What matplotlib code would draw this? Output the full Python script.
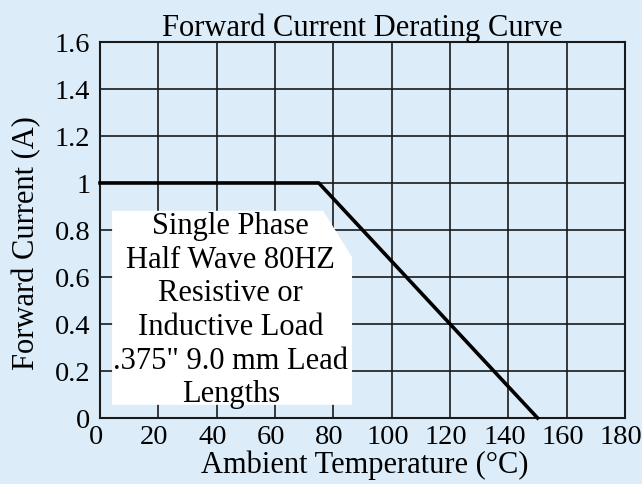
import matplotlib
matplotlib.use("Agg")
import matplotlib.pyplot as plt
import matplotlib.transforms as mtransforms
from matplotlib.patches import Polygon

# derating curve
temps = [0, 75, 150]
current = [1.0, 1.0, 0.0]

x_ticks = [0, 20, 40, 60, 80, 100, 120, 140, 160, 180]
y_ticks = [0, 0.2, 0.4, 0.6, 0.8, 1.0, 1.2, 1.4, 1.6]
y_tick_labels = ["0", "0.2", "0.4", "0.6", "0.8", "1", "1.2", "1.4", "1.6"]

note_lines = [
    "Single Phase",
    "Half Wave 80HZ",
    "Resistive or",
    "Inductive Load",
    '.375" 9.0 mm Lead',
    "Lengths",
]

bg = "#dcedf9"
plt.rcParams["font.family"] = ["Liberation Serif", "DejaVu Serif"]
fs = 22
tick_fs = 20.5

fig = plt.figure(figsize=(6.42, 4.85), dpi=100, facecolor=bg)
ax = fig.add_axes([0.1558, 0.1361, 0.8178, 0.7753], facecolor=bg)

ax.set_xlim(0, 180)
ax.set_ylim(0, 1.6)
ax.set_xticks(x_ticks)
ax.set_yticks(y_ticks)
ax.set_yticklabels(y_tick_labels)
ax.tick_params(axis="both", length=0, labelsize=tick_fs)
ax.tick_params(axis="x", pad=4)
ax.tick_params(axis="y", pad=7)
ax.grid(True, color="#1a1a1a", linewidth=1.2, zorder=1)
ax.set_axisbelow(True)
for s in ax.spines.values():
    s.set_linewidth(1.5)
    s.set_color("#1a1a1a")

# x tick labels sit a little left of their grid lines
shift = mtransforms.ScaledTranslation(-4 / 100, 0, fig.dpi_scale_trans)
for lab in ax.get_xticklabels():
    lab.set_transform(lab.get_transform() + shift)

# white note box with clipped top-right corner
box = Polygon(
    [(0.023, 0.035), (0.48, 0.035), (0.48, 0.428), (0.425, 0.551), (0.023, 0.551)],
    closed=True, transform=ax.transAxes, facecolor="white", edgecolor="none", zorder=2,
)
ax.add_patch(box)
ax.text(0.249, 0.288, "\n".join(note_lines), transform=ax.transAxes,
        ha="center", va="center", fontsize=fs, linespacing=1.21, zorder=3)

ax.plot(temps, current, color="black", linewidth=2.6, zorder=4, clip_on=False)

ax.set_title("Forward Current Derating Curve", fontsize=fs, pad=4)
ax.set_xlabel("Ambient Temperature (°C)", fontsize=fs)
ax.set_ylabel("Forward Current (A)", fontsize=fs)
ax.xaxis.set_label_coords(0.505, -0.085)
ax.yaxis.set_label_coords(-0.112, 0.468)

fig.savefig("out.png", dpi=100, facecolor=bg)
